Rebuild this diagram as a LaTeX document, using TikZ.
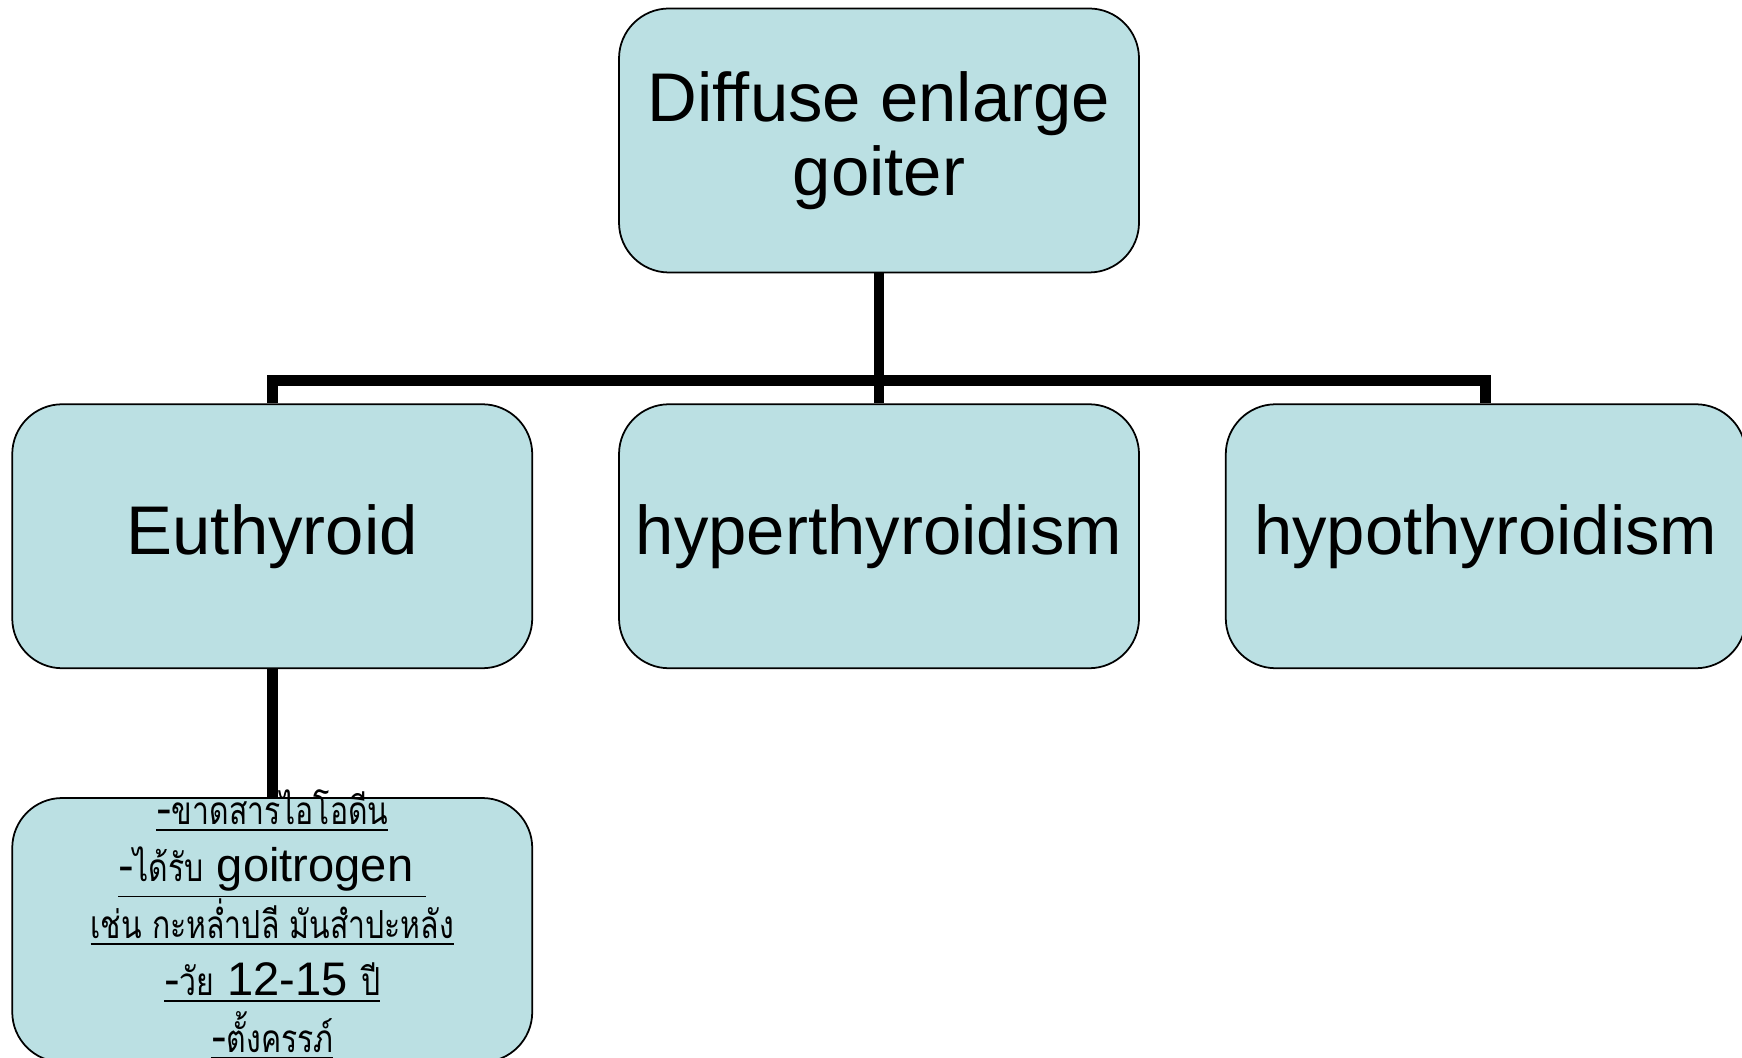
\documentclass[tikz,border=0pt]{standalone}
\usepackage{fontspec}
\setmainfont{Liberation Sans}
\newfontfamily\thaifont[Script=Thai, FakeStretch=0.78]{Loma}
\usepackage{xcolor}
\usepackage{tikz}
\usetikzlibrary{positioning}
\definecolor{boxcyan}{HTML}{BBE0E3}
% Thai words inside the cause list
\newcommand{\thai}[1]{{\thaifont\fontsize{11}{16}\selectfont #1}}
\newcommand{\causefont}{\fontsize{13.4}{16.2}\selectfont\setlength{\lineskiplimit}{-20pt}}

\begin{document}
\begin{tikzpicture}[
    orgbox/.style={fill=boxcyan, draw=black, line width=0.5pt, rounded corners=0.5cm,
                   minimum width=5.2cm, minimum height=2.64cm, align=center,
                   font=\fontsize{19.6}{21}\selectfont},
    branch/.style={line width=3.1pt},
    node distance=1.3cm and 0.85cm]
    \useasboundingbox (0,0) rectangle (17.42,10.57);

    % top of the tree and its three kinds
    \node[orgbox] (goiter) at (8.79,9.165) {Diffuse enlarge\\goiter};
    \node[orgbox, below=of goiter] (hyper) {hyperthyroidism};
    \node[orgbox, left=of hyper] (euthyroid) {Euthyroid};
    \node[orgbox, right=of hyper] (hypo) {hypothyroidism};
    \node[orgbox, below=1.28cm of euthyroid] (causes) {};
    \node[align=center, font=\causefont]
        (causelist) at ([yshift=0.05cm]causes.center) {%
      \underline{-\thai{ขาดสารไอโอดีน}}\\
      \underline{-\thai{ได้รับ} goitrogen\ }\\
      \underline{\thai{เช่น กะหล่ำปลี มันสำปะหลัง}}\\
      \underline{-\thai{วัย} 12-15 \thai{ปี}}\\
      \underline{-\thai{ตั้งครรภ์}}};

    % connectors
    \draw[branch] (goiter.south) -- ++(0,-1.07) coordinate (fork) -| (euthyroid.north);
    \draw[branch] (fork) -| (hypo.north);
    \draw[branch] (fork) -- (hyper.north);
    \draw[branch] (euthyroid.south) -- (causes.north);
\end{tikzpicture}
\end{document}
